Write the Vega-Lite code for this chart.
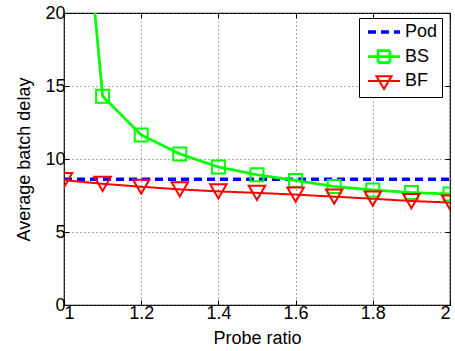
{
  "$schema": "https://vega.github.io/schema/vega-lite/v6.json",
  "width": 386,
  "height": 292,
  "autosize": {"type": "none"},
  "padding": {"left": 64, "top": 13, "right": 5, "bottom": 46},
  "background": "white",
  "config": {
    "font": "Liberation Sans",
    "view": {"stroke": "black", "strokeWidth": 1.2},
    "axis": {
      "labelFont": "Liberation Sans",
      "labelFontSize": 18,
      "labelColor": "#000",
      "titleFont": "Liberation Sans",
      "titleFontSize": 18,
      "titleFontWeight": "normal",
      "titleColor": "#000",
      "domain": false,
      "tickColor": "#000",
      "tickSize": -5,
      "labelPadding": 4,
      "grid": true,
      "gridColor": "#555",
      "gridDash": [1, 3],
      "gridOpacity": 1
    }
  },
  "data": {
    "values": [
      {"series": "Pod", "x": 1.0, "y": 8.62},
      {"series": "Pod", "x": 1.1, "y": 8.62},
      {"series": "Pod", "x": 1.2, "y": 8.62},
      {"series": "Pod", "x": 1.3, "y": 8.62},
      {"series": "Pod", "x": 1.4, "y": 8.62},
      {"series": "Pod", "x": 1.5, "y": 8.62},
      {"series": "Pod", "x": 1.6, "y": 8.62},
      {"series": "Pod", "x": 1.7, "y": 8.62},
      {"series": "Pod", "x": 1.8, "y": 8.62},
      {"series": "Pod", "x": 1.9, "y": 8.62},
      {"series": "Pod", "x": 2.0, "y": 8.62},
      {"series": "BS", "x": 1.0, "y": 43},
      {"series": "BS", "x": 1.1, "y": 14.3},
      {"series": "BS", "x": 1.2, "y": 11.65},
      {"series": "BS", "x": 1.3, "y": 10.35},
      {"series": "BS", "x": 1.4, "y": 9.45},
      {"series": "BS", "x": 1.5, "y": 8.92},
      {"series": "BS", "x": 1.6, "y": 8.53},
      {"series": "BS", "x": 1.7, "y": 8.12},
      {"series": "BS", "x": 1.8, "y": 7.88},
      {"series": "BS", "x": 1.9, "y": 7.7},
      {"series": "BS", "x": 2.0, "y": 7.6},
      {"series": "BF", "x": 1.0, "y": 8.55},
      {"series": "BF", "x": 1.1, "y": 8.3},
      {"series": "BF", "x": 1.2, "y": 8.1},
      {"series": "BF", "x": 1.3, "y": 7.92},
      {"series": "BF", "x": 1.4, "y": 7.78},
      {"series": "BF", "x": 1.5, "y": 7.68},
      {"series": "BF", "x": 1.6, "y": 7.56},
      {"series": "BF", "x": 1.7, "y": 7.42},
      {"series": "BF", "x": 1.8, "y": 7.28},
      {"series": "BF", "x": 1.9, "y": 7.12},
      {"series": "BF", "x": 2.0, "y": 7.02}
    ]
  },
  "resolve": {"axis": {"x": "independent", "y": "independent"}},
  "layer": [
    {
      "mark": {"type": "line", "clip": true},
      "encoding": {
        "x": {"field": "x", "type": "quantitative", "scale": {"domain": [1, 2], "nice": false, "zero": false},
              "axis": {"values": [1, 1.2, 1.4, 1.6, 1.8, 2], "format": "~g", "title": "Probe ratio", "titlePadding": 7}},
        "y": {"field": "y", "type": "quantitative", "scale": {"domain": [0, 20], "nice": false},
              "axis": {"values": [0, 5, 10, 15, 20], "title": "Average batch delay", "titlePadding": 11}},
        "color": {"field": "series", "type": "nominal",
                  "scale": {"domain": ["Pod", "BS", "BF"], "range": ["#0000ff", "#00ff00", "#ff0000"]}},
        "strokeDash": {"field": "series", "type": "nominal",
                       "scale": {"domain": ["Pod", "BS", "BF"], "range": [[8, 5], [1, 0], [1, 0]]}},
        "strokeWidth": {"field": "series", "type": "nominal",
                        "scale": {"domain": ["Pod", "BS", "BF"], "range": [3.5, 2, 2]}}
      }
    },
    {
      "transform": [{"filter": "datum.series === 'BS'"}],
      "mark": {"type": "point", "shape": "square", "size": 169, "filled": false, "strokeWidth": 2, "color": "#00ff00", "opacity": 1, "clip": true},
      "encoding": {
        "x": {"field": "x", "type": "quantitative", "axis": null},
        "y": {"field": "y", "type": "quantitative", "axis": null}
      }
    },
    {
      "transform": [{"filter": "datum.series === 'BF'"}],
      "mark": {"type": "point", "shape": "triangle-down", "size": 270, "filled": false, "strokeWidth": 2, "color": "#ff0000", "opacity": 1, "clip": true},
      "encoding": {
        "x": {"field": "x", "type": "quantitative", "axis": null},
        "y": {"field": "y", "type": "quantitative", "axis": null}
      }
    },
    {
      "mark": {"type": "point", "strokeOpacity": 0, "fillOpacity": 0, "filled": false, "clip": true},
      "encoding": {
        "x": {"field": "x", "type": "quantitative",
              "axis": {"orient": "top", "values": [1, 1.2, 1.4, 1.6, 1.8, 2], "labels": false, "grid": false, "title": null}},
        "y": {"field": "y", "type": "quantitative",
              "axis": {"orient": "right", "values": [0, 5, 10, 15, 20], "labels": false, "grid": false, "title": null}},
        "shape": {"field": "series", "type": "nominal",
                  "scale": {"domain": ["Pod", "BS", "BF"],
                            "range": ["M-2,0H2", "M-2,0H2M-0.75,-0.75H0.75V0.75H-0.75Z", "M-2,0H2M-0.94,-0.6H0.94L0,1Z"]},
                  "legend": {
                    "orient": "none", "legendX": 295, "legendY": 5,
                    "title": null, "symbolSize": 256, "symbolStrokeWidth": 2,
                    "symbolOffset": 11,
                    "labelFontSize": 18, "labelFont": "Liberation Sans", "labelColor": "#000", "labelOffset": 11,
                    "padding": 4, "rowPadding": 4,
                    "fillColor": "white", "strokeColor": "black",
                    "encode": {"symbols": {"update": {
                      "stroke": {"scale": "color", "field": "value"},
                      "strokeDash": {"scale": "strokeDash", "field": "value"},
                      "strokeWidth": {"scale": "strokeWidth", "field": "value"},
                      "opacity": {"value": 1},
                      "strokeOpacity": {"value": 1},
                      "fill": {"value": "transparent"}
                    }}}
                  }}
      }
    }
  ]
}
